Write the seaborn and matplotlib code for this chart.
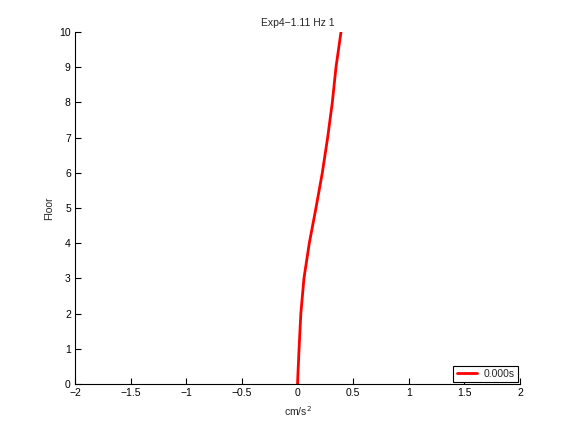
import pandas as pd
import seaborn as sns
import matplotlib.pyplot as plt

floors = [0, 1, 2, 3, 4, 5, 6, 7, 8, 9, 10]
accel = [0.0, 0.014, 0.03, 0.058, 0.106, 0.166, 0.223, 0.271, 0.313, 0.346, 0.391]

df = pd.DataFrame({'Floor': floors, 'cm/s2': accel, 'time': '0.000s'})

sns.set_style('ticks')
plt.rcParams['font.family'] = ['Liberation Sans', 'DejaVu Sans']
plt.rcParams['font.size'] = 7.5
plt.rcParams['xtick.direction'] = 'in'
plt.rcParams['ytick.direction'] = 'in'

fig = plt.figure(figsize=(5.76, 4.32), dpi=100)
ax = fig.add_axes([75 / 576, 1 - 384 / 432, 445 / 576, 352 / 432])

sns.lineplot(data=df, x='cm/s2', y='Floor', hue='time', palette=['red'],
             orient='y', sort=False, linewidth=2, ax=ax)

ax.set_xlim(-2, 2)
ax.set_ylim(0, 10)
ax.set_xticks([-2, -1.5, -1, -0.5, 0, 0.5, 1, 1.5, 2])
ax.set_xticklabels(['\u22122', '\u22121.5', '\u22121', '\u22120.5', '0', '0.5', '1', '1.5', '2'])
ax.set_yticks(range(0, 11))
ax.tick_params(top=False, right=False, length=4, width=0.8, labelsize=7.5, pad=3, colors='black')
sns.despine(ax=ax)
for s in ['left', 'bottom']:
    ax.spines[s].set_linewidth(0.8)
    ax.spines[s].set_color('black')

ax.set_xlabel('cm/s$^2$', fontsize=7.5)
ax.set_ylabel('Floor', fontsize=7.5)
ax.set_title('Exp4\u22121.11 Hz 1', fontsize=7.5, pad=4)

leg = ax.legend(loc='lower right', fancybox=False, framealpha=1, edgecolor='black',
                fontsize=7.5, handlelength=2.0, borderpad=0.3, handletextpad=0.6,
                borderaxespad=0.2)
leg.get_frame().set_linewidth(0.8)

fig.savefig('out.png')
